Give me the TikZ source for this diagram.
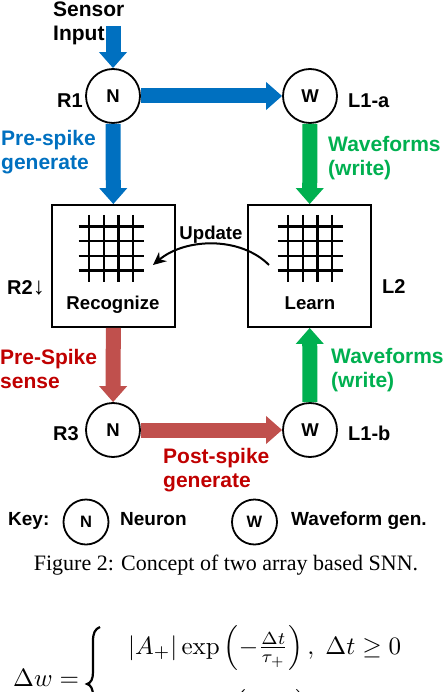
\documentclass[tikz,border=0pt]{standalone}
\usepackage[no-math]{fontspec}
\setmainfont{Liberation Sans}
\newfontfamily\capfont{Liberation Serif}
\usetikzlibrary{arrows.meta}
\definecolor{cblue}{HTML}{0070C0}
\definecolor{cgreen}{HTML}{00B050}
\definecolor{cred}{HTML}{C0504D}
\definecolor{tred}{HTML}{C00000}
\begin{document}
\begin{tikzpicture}[x=1pt,y=-1pt,
  neuron/.style={circle,draw,line width=1.8pt,fill=white,minimum size=54pt,inner sep=0pt,
    font=\fontsize{18.5}{18.5}\selectfont\bfseries},
  keycirc/.style={neuron,minimum size=45pt,font=\fontsize{16.5}{16.5}\selectfont\bfseries},
  arraybox/.style={draw,line width=1.8pt,minimum width=123pt,minimum height=122pt,inner sep=0pt},
  block/.style={line width=15pt,-{Triangle[width=27pt,length=16pt]}},
  lbl/.style={font=\fontsize{21}{24}\selectfont\bfseries,inner sep=0pt,anchor=base west,align=left},
  tag/.style={font=\fontsize{20}{24}\selectfont\bfseries,inner sep=0pt,anchor=base west},
  keytxt/.style={font=\fontsize{19}{24}\selectfont\bfseries,inner sep=0pt,anchor=base west},
  boxtxt/.style={font=\fontsize{18.6}{24}\selectfont\bfseries,inner sep=0pt,anchor=base},
  gridline/.style={line width=2.4pt},
  eq/.style={inner sep=0pt,anchor=base west}
]
\useasboundingbox (0,0) rectangle (444,692);
\clip (0,0) rectangle (444,692);

% nodes
\node[neuron] (n1) at (113,96) {N};
\node[neuron] (w1) at (310,96) {W};
\node[neuron] (n3) at (113,430) {N};
\node[neuron] (w3) at (310,430) {W};
\node[arraybox] (rec) at (113.5,266) {};
\node[arraybox] (lrn) at (309.5,266) {};

% grids
\foreach \bx in {111,310}{
  \foreach \d in {-22,-7.3,7.3,22}{
    \draw[gridline] (\bx-32.5,248.5+\d) -- (\bx+32.5,248.5+\d);
    \draw[gridline] (\bx+\d,248.5-33.5) -- (\bx+\d,248.5+33.5);
  }
}
\node[boxtxt] (rect) at (113,309) {Recognize};
\node[boxtxt] (lrnt) at (310,309) {Learn};

% input
\coordinate (sin) at (113,26);
\node[lbl] (sensor) at (53,41) {Sensor\\Input};

% arrows
\draw[block,cblue] (sin) -- (n1);
\draw[block,cblue] (n1) -- (w1);
\draw[block,cblue] (n1) -- (rec);
\draw[block,cgreen] (w1) -- (lrn);
\draw[block,cred] (rec) -- (n3);
\draw[block,cred] (n3) -- (w3);
\draw[block,cgreen] (w3) -- (lrn);

% update arrow
\coordinate (us) at (269,265);
\coordinate (ue) at (153,265);
\draw[line width=2pt,-{Stealth[length=13pt,width=12pt]}] (us) .. controls (240,236) and (185,238) .. (ue);
\node[boxtxt] (upd) at (211,240) {Update};

% labels
\node[tag] (r1) at (57,108) {R1};
\node[tag] (l1a) at (348,108) {L1-a};
\node[tag] (r2) at (7,294) {R2\textmd{\fontsize{24}{24}\selectfont↓}};
\node[tag] (l2) at (382,293) {L2};
\node[tag] (r3) at (53,440) {R3};
\node[tag] (l1b) at (348,440) {L1-b};

\node[lbl,text=cblue] (pre1) at (1,170) {Pre-spike\\generate};
\node[lbl,text=cgreen] (wf1) at (328,176) {Waveforms\\(write)};
\node[lbl,text=tred] (pre2) at (0,388) {Pre-Spike\\sense};
\node[lbl,text=cgreen] (wf2) at (331,387) {Waveforms\\(write)};
\node[lbl,text=tred] (post) at (163,487) {Post-spike\\generate};

% key
\node[keytxt] (key) at (8,525) {Key:};
\node[keycirc] (kn) at (86,522) {N};
\node[keytxt] (kneu) at (120,525) {Neuron};
\node[keycirc] (kw) at (254.5,522) {W};
\node[keytxt] (kwav) at (291,525) {Waveform gen.};

% caption
\node[inner sep=0pt,anchor=base,font=\capfont\fontsize{22}{24}\selectfont] (cap) at (226,570) {Figure 2: Concept of two array based SNN.};

% equation
\node[eq] (dw) at (13,686) {\scalebox{2.5}{$\Delta w =$}};
\draw[line width=2.2pt] (100,627) .. controls (95,629) and (93,633) .. (93,641) -- (93,672)
  .. controls (93,679) and (91,683) .. (87,684) .. controls (91,685) and (93,689) .. (93,696) -- (93,730);
\node[eq] (row1) at (128,654) {\scalebox{2.5}{$|A_+|\exp\left(-\frac{\Delta t}{\tau_+}\right),\ \Delta t\geq 0$}};
\node[eq] (row2) at (135,718) {\scalebox{2.5}{$|A_-|\exp\left(-\frac{\Delta t}{\tau_-}\right),\ \Delta t<0$}};
\end{tikzpicture}
\end{document}
